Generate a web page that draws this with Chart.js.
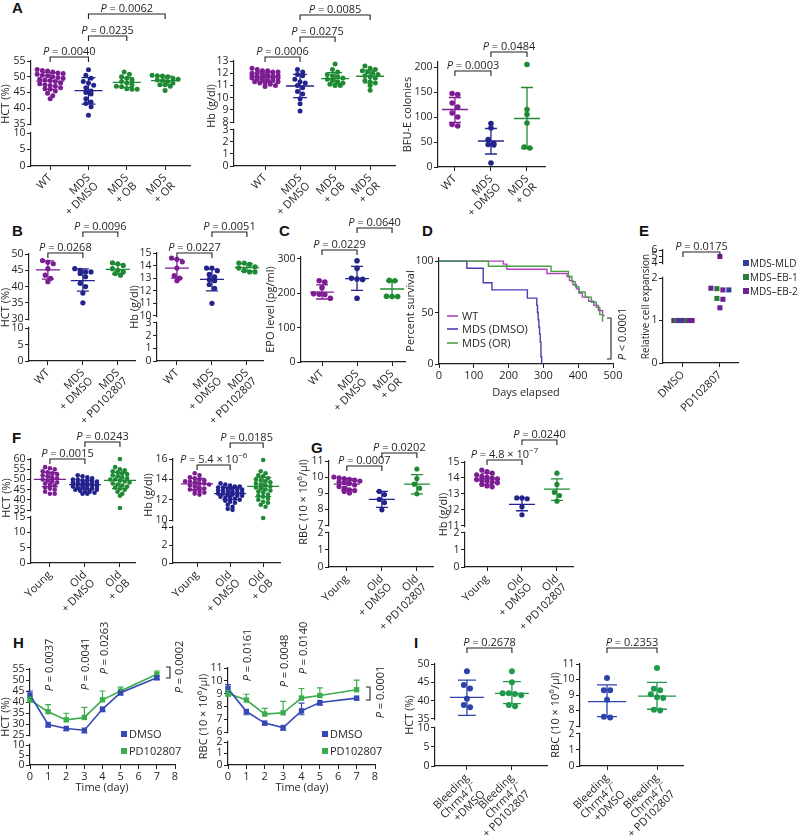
<!DOCTYPE html>
<html><head><meta charset="utf-8"><title>Figure</title>
<script src="https://cdn.jsdelivr.net/npm/chart.js@4.4.1/dist/chart.umd.min.js"></script>
<style>
html,body{margin:0;padding:0;background:#fff}
#fig{position:relative;width:800px;height:835px;overflow:hidden;background:#fff}
#fig canvas{position:absolute}
.L{position:absolute;font:bold 15px "Liberation Sans",Arial,sans-serif;line-height:15px;color:#111}
</style></head>
<body><div id="fig">
<div class="L" style="left:12px;top:0px">A</div>
<div class="L" style="left:12px;top:223px">B</div>
<div class="L" style="left:279px;top:223px">C</div>
<div class="L" style="left:422px;top:223px">D</div>
<div class="L" style="left:639px;top:223px">E</div>
<div class="L" style="left:12px;top:430px">F</div>
<div class="L" style="left:311px;top:440px">G</div>
<div class="L" style="left:13px;top:635px">H</div>
<div class="L" style="left:414px;top:635px">I</div>
</div>
<script>
// ======================= DATA =======================
const catsA = ['WT', ['MDS','+ DMSO'], ['MDS','+ OB'], ['MDS','+ OR']];
const catsA3 = ['WT', ['MDS','+ DMSO'], ['MDS','+ OR']];
const catsB = ['WT', ['MDS','+ DMSO'], ['MDS','+ PD102807']];
const catsC = ['WT', ['MDS','+ DMSO'], ['MDS','+ OR']];
const catsE = ['DMSO', 'PD102807'];
const catsF = ['Young', ['Old','+ DMSO'], ['Old','+ OB']];
const catsG = ['Young', ['Old','+ DMSO'], ['Old','+ PD102807']];
const catsI = [['Bleeding','Chrm4\u207B/\u207B','+DMSO'], ['Bleeding','Chrm4\u207B/\u207B','+ PD102807']];

// A – HCT
const a1_WT = [52.3,52,51.8,51.5,51.2,51,50.8,50.5,50.3,50,49.8,49.5,49.2,49,48.8,48.5,48,47.8,47.5,47.2,47,46.5,46.2,46,45.5,44.8,44,43];
const a1_DMSO = [52.2,50.5,49.5,48.5,48,47.3,46.5,45.5,45,44.5,43,42,41.5,40.5,37.8];
const a1_OB = [51.5,50.8,50,49.5,49,48.5,48,47.5,47,46.8,46.2,46,46];
const a1_OR = [50.5,50.3,50.2,50,49.5,49.2,49,48.8,48.5,48,47.5,47.5,47,45.6];
const a1_mean = [48.6,45.6,48.2,48.8];
const a1_sd = [[46.0,51.3],[41.3,49.7],[46.6,49.7],[47.4,50.2]];
const a1_p = ['0.0040','0.0235','0.0062'];
const a1_ticks = [0,5,10,35,40,45,50,55];
// A – Hb
const a2_WT = [12.4,12.3,12.2,12.2,12.1,12.1,12.0,12.0,11.9,11.9,11.8,11.8,11.8,11.7,11.7,11.7,11.6,11.6,11.6,11.5,11.5,11.4,11.4,11.3,11.3,11.2,11.2,11.1,11.0,10.9];
const a2_DMSO = [12.3,12.1,11.9,11.8,11.5,11.3,11.2,11.0,10.8,10.5,10.3,9.9,9.5,8.9];
const a2_OB = [12.75,12.3,12.1,11.9,11.8,11.7,11.6,11.5,11.4,11.3,11.2,11.1,11.0,11.0];
const a2_OR = [12.6,12.4,12.3,12.2,12.1,12.0,11.9,11.8,11.7,11.6,11.4,11.3,11.2,11.0,10.6];
const a2_mean = [11.7,10.95,11.55,11.75];
const a2_sd = [[11.3,12.1],[10.0,11.9],[11.1,12.05],[11.2,12.25]];
const a2_p = ['0.0006','0.0275','0.0085'];
const a2_ticks = [0,1,2,3,8,9,10,11,12,13];
// A – BFU-E
const a3_WT = [147,145,128,120,108,100,85,82];
const a3_DMSO = [87,78,55,47,45,44,8];
const a3_OR = [205,115,105,88,40,38];
const a3_mean = [115,52,97];
const a3_sd = [[89,139],[26,77],[37,159]];
const a3_p = ['0.0003','0.0484'];
const a3_ticks = [0,50,100,150,200];
// B
const b1_WT = [48.0,47.5,47.0,45.5,43.5,42.5,41.5];
const b1_DMSO = [45.5,45.0,44.5,44.5,44.0,43.0,41.0,40.0,38.0,35.0];
const b1_PD = [47.3,47.0,46.5,45.5,45.0,44.5,44.0,43.5];
const b1_mean = [45.1,41.8,45.3];
const b1_sd = [[42.3,47.9],[38.6,45.4],[43.8,46.8]];
const b1_p = ['0.0268','0.0096'];
const b1_ticks = [0,5,10,30,35,40,45,50];
const b2_WT = [14.6,14.5,14.3,13.8,13.2,13.0,12.8];
const b2_DMSO = [13.8,13.8,13.6,13.3,13.1,12.9,12.8,12.5,12.2,11.0];
const b2_PD = [14.2,14.2,14.1,13.9,13.8,13.6,13.5,13.5];
const b2_mean = [13.8,12.9,13.85];
const b2_sd = [[13.0,14.5],[12.0,13.7],[13.55,14.15]];
const b2_p = ['0.0227','0.0051'];
const b2_ticks = [0,1,2,3,10,11,12,13,14,15];
// C
const c_WT = [236,232,216,198,197,196,185];
const c_DMSO = [294,272,243,241,240,185];
const c_OR = [237,236,191,190,190];
const c_mean = [203,242,212];
const c_sd = [[183,224],[208,278],[190,236]];
const c_p = ['0.0229','0.0640'];
const c_ticks = [0,100,200,300];
// D – survival
const d_WT_days = [0,185,195,310,368,375,385,395,402,412,430,445,458,470,476];
const d_WT_surv = [100,97,92,88,85,81,77,73,69,65,61,57,52,47,47];
const d_DMSO_days = [0,80,127,152,254,281,283,285,287,289,291,293,295];
const d_DMSO_surv = [100,93,79,72,64,57,50,43,36,29,21,7,0];
const d_OR_days = [0,142,322,372,382,392,402,420,438,452,462,470];
const d_OR_surv = [100,95,90,85,80,75,70,65,60,55,48,41];
const d_legend = ['WT','MDS (DMSO)','MDS (OR)'];
const d_p = '< 0.0001';
const d_xticks = [0,100,200,300,400,500];
const d_yticks = [0,50,100];
// E
const e_types = ['EB-2','EB-1','EB-2','MLD','EB-2','EB-1','EB-2','EB-2'];
const e_DMSO = [1,1,1,1,1,1,1,1];
const e_PD = [5.0,1.75,1.72,1.72,1.76,1.52,1.5,1.3];
const e_p = ['0.0175'];
const e_ticks = [0,1,2,4,5,6];
const e_legend = ['MDS-MLD','MDS\u2013EB-1','MDS\u2013EB-2'];
const e_legendTypes = ['MLD','EB-1','EB-2'];
// F
const f1_Young = [56,55.5,55,54,53.5,53,52.5,52,51.5,51,50.5,50,49.5,49,48.5,48,47.5,47,46,45.5,45,44,43,43];
const f1_DMSO = [52,51.5,51,50.5,50,50,49.5,49.5,49,49,48.5,48.5,48,48,48,47.5,47.5,47.5,47,47,47,46.5,46.5,46,46,45.5,45.5,45,45,44.5,44,44,43.5,43,43];
const f1_OB = [60,56,55,54.5,54,53.5,53,52.5,52,51.5,51,50.5,50,50,49.5,49,48.5,48,47.5,47,46.5,46,45.5,45,44,43,42,36];
const f1_mean = [50.0,47.5,49.5];
const f1_sd = [[46.5,53.5],[45.3,49.7],[45.5,53.5]];
const f1_p = ['0.0015','0.0243'];
const f1_ticks = [0,5,10,15,35,40,45,50,55,60];
const f2_Young = [14.6,14.4,14.2,14.1,14.0,13.9,13.8,13.8,13.7,13.6,13.6,13.5,13.4,13.3,13.2,13.1,13.0,12.9,12.8,12.7,12.6,12.5];
const f2_DMSO = [13.6,13.5,13.4,13.3,13.3,13.2,13.2,13.1,13.1,13.0,13.0,12.9,12.9,12.8,12.8,12.7,12.7,12.6,12.6,12.5,12.5,12.4,12.4,12.3,12.2,12.2,12.1,12.0,11.9,11.8,11.7,11.5,11.3,11.1,11.0];
const f2_OB = [15.9,14.8,14.6,14.4,14.3,14.1,14.0,13.9,13.8,13.7,13.6,13.5,13.4,13.3,13.2,13.1,13.0,12.9,12.8,12.7,12.5,12.4,12.3,12.1,12.0,11.8,11.7,11.5,11.3,10.2];
const f2_mean = [13.55,12.6,13.3];
const f2_sd = [[13.0,14.1],[12.0,13.2],[12.3,14.2]];
const f2_p = ['5.4 \u00D7 10^{\u22126}','0.0185'];
const f2_ticks = [0,2,4,10,12,14,16];
// G
const g1_Young = [10.0,9.95,9.9,9.85,9.8,9.75,9.7,9.65,9.6,9.5,9.4,9.3,9.2,9.15,9.1,9.0];
const g1_DMSO = [9.1,8.9,8.6,8.4,7.95];
const g1_PD = [10.5,9.9,9.55,9.3,8.95];
const g1_mean = [9.55,8.6,9.55];
const g1_sd = [[9.2,9.9],[8.1,9.1],[8.95,10.15]];
const g1_p = ['0.0007','0.0202'];
const g1_ticks = [0,1,2,7,8,9,10,11];
const g2_Young = [14.5,14.4,14.3,14.2,14.1,14.05,14.0,13.95,13.9,13.85,13.8,13.75,13.7,13.6,13.5,13.45];
const g2_DMSO = [12.75,12.75,12.7,12.2,11.7];
const g2_PD = [14.3,13.6,13.1,12.9,12.55];
const g2_mean = [13.95,12.35,13.3];
const g2_sd = [[13.6,14.3],[11.95,12.75],[12.6,13.95]];
const g2_p = ['4.8 \u00D7 10^{\u22127}','0.0240'];
const g2_ticks = [0,1,2,11,12,13,14,15];
// H
const h_days = [0,1,2,3,4,5,7];
const h_xticks = [0,1,2,3,4,5,6,7,8];
const h_legend = ['DMSO','PD102807'];
const h1_DMSO = [43.2,29.8,28.0,27.2,36.8,44.2,51.0];
const h1_PD = [41.0,35.6,31.9,33.0,41.0,45.0,52.6];
const h1_DMSOup = [1.8,0,0,0,0,0.6,0];
const h1_DMSOdn = [1.2,1.2,1.0,1.2,1.2,1.0,0.8];
const h1_PDup = [1.2,3.2,3.0,4.6,4.0,1.8,1.5];
const h1_PDdn = [1.0,0,0,0,0,0,0];
const h1_p = ['0.0037','0.0041','0.0263','0.0002'];
const h1_ticks = [0,5,10,25,30,35,40,45,50,55];
const h2_DMSO = [9.4,7.6,6.7,6.35,7.65,8.3,8.65];
const h2_PD = [9.0,8.5,7.4,7.5,8.65,8.85,9.3];
const h2_DMSOup = [0.3,0,0,0,0.6,0,0];
const h2_DMSOdn = [0.2,0.25,0.15,0.2,0.3,0.2,0.15];
const h2_PDup = [0.25,0.45,0.45,0.9,0.75,0.6,0.75];
const h2_PDdn = [0.2,0,0,0,0,0,0];
const h2_p = ['0.0161','0.0048','0.0140','0.0001'];
const h2_ticks = [0,1,2,6,7,8,9,10,11];
// I
const i1_DMSO = [48.0,44.3,43.3,40.5,38.8,38.2];
const i1_PD = [48.0,45.0,42.0,42.0,41.8,41.5,38.8,38.5];
const i1_mean = [40.9,42.0];
const i1_sd = [[36.0,45.6],[39.2,45.2]];
const i1_p = ['0.2678'];
const i1_ticks = [0,5,10,35,40,45,50];
const i2_DMSO = [10.1,9.3,9.3,8.7,7.6,7.55];
const i2_PD = [10.75,9.4,9.3,9.05,8.85,8.8,8.05,8.0];
const i2_mean = [8.57,8.93];
const i2_sd = [[7.6,9.65],[8.08,9.82]];
const i2_p = ['0.2353'];
const i2_ticks = [0,1,2,7,8,9,10,11];

// ======================= STYLE / LAYOUT =======================
const INK = '#231f20';
const FONT = '"Open Sans","Noto Sans","DejaVu Sans",sans-serif';
const TICK = 10.5;
const COL = {pur:'#7d1d93', navy:'#23238e', grn:'#1e8a33', iB:'#2d43ab', iG:'#1f9a4a',
  hB:'#3649b3', hG:'#3aad4c', dWT:'#b23fc4', dDMSO:'#4b3db3', dOR:'#45a142',
  E:{'MLD':'#2f3f9f','EB-1':'#2b7a3a','EB-2':'#6c2196'}};

const LAY = {
  A1:{rect:[31,61,190,166], x:[-0.5,3.65], y:{low:[0,10],high:[35,55],split:.314,gap:.086}, rad:2.5, d:5.2, maxRow:6, mw:14, cw:7, tOff:26, tY:104, br:[[0,1,57],[1,2,36],[1,3,14]]},
  A2:{rect:[234,61,395,166], x:[-0.886,3.71], y:{low:[0,3],high:[8,13],split:.343,gap:.076}, rad:2.5, d:5.2, maxRow:6, mw:14, cw:7, tOff:23, tY:106, br:[[0,1,57],[1,2,37],[1,3,15]]},
  A3:{rect:[438,62,545,167], x:[-0.47,2.5], y:{min:0,max:210}, rad:2.8, d:5.6, mw:13, cw:6, tOff:31, br:[[0,1,71],[1,2,52]]},
  B1:{rect:[29,254,135,361], x:[-0.54,2.49], y:{low:[0,10],high:[30,50],split:.308,gap:.084}, rad:2.6, d:5.4, mw:12, cw:6, tOff:24, br:[[0,1,253],[1,2,232]]},
  B2:{rect:[157,253,263,361], x:[-0.57,2.46], y:{low:[0,3],high:[10,15],split:.352,gap:.065}, rad:2.6, d:5.4, mw:12, cw:6, tOff:23, br:[[0,1,253],[1,2,232]]},
  C:{rect:[301,257,405,362], x:[-0.6,2.37], y:{min:0,max:305}, rad:2.8, d:5.6, mw:12, cw:6, tOff:31, br:[[0,1,250],[1,2,228]]},
  D:{rect:[439,258,613,364], m:{l:45,t:20,r:40,b:45}, tOff:29, xtX:526, xtY:396},
  E:{rect:[663,250,738,363], x:[-0.54,1.49], y:{low:[0,2],high:[4,6],split:.752,gap:.133}, rad:3.6, ps:'rect', d:[2.6,6], tOff:18, tSize:10, br:[[0,1,252]], m:{r:64}},
  F1:{rect:[31,459,135,563], x:[-0.54,2.43], y:{low:[0,15],high:[35,60],split:.442,gap:.067}, rad:2.3, d:4.8, maxRow:6, mw:16, cw:8, tOff:25, tY:498, br:[[0,1,459],[1,2,442]]},
  F2:{rect:[173,459,280,563], x:[-0.73,2.51], y:{low:[0,4],high:[10,16],split:.346,gap:.067}, rad:2.3, d:4.8, maxRow:6, mw:16, cw:8, tOff:25, tY:495, br:[[0,1,465],[1,2,443]]},
  G1:{rect:[329,461,433,567], x:[-0.51,2.46], y:{low:[0,2],high:[7,11],split:.321,gap:.075}, rad:2.6, d:5.2, maxRow:6, mw:13, cw:6, tOff:26, tY:502, br:[[0,1,466],[1,2,453]]},
  G2:{rect:[465,462,573,567], x:[-0.63,2.46], y:{low:[0,2],high:[11,15],split:.324,gap:.067}, rad:2.6, d:5.2, maxRow:6, mw:13, cw:6, tOff:22, br:[[0,1,460],[1,2,440]]},
  H1:{rect:[30,669,175,765], y:{low:[0,10],high:[25,55],split:.208,gap:.104}, m:{l:45,t:55,r:25,b:35}, tOff:25, xtX:102, xtY:791, pt:[[1,665],[3,664],[4,648]], bk:[170,667,678], bkT:[179,667], leg:[121,129]},
  H2:{rect:[228,668,375,765], y:{low:[0,2],high:[6,11],split:.237,gap:.103}, m:{l:45,t:55,r:25,b:35}, tOff:25, xtX:302, xtY:791, pt:[[1,655],[3,661],[4,648]], bk:[370,687,700], bkT:[380,692], leg:[322,330]},
  I1:{rect:[435,664,547,766], x:[-0.71,1.78], y:{low:[0,10],high:[35,50],split:.373,gap:.088}, rad:3, d:6.2, mw:17, cw:9, tOff:26, br:[[0,1,648]], m:{b:75}},
  I2:{rect:[580,664,683,766], x:[-0.54,1.52], y:{low:[0,2],high:[7,11],split:.314,gap:.078}, rad:3, d:6.2, mw:19, cw:10, tOff:25, br:[[0,1,648]], m:{b:75}}
};

// ======================= HELPERS =======================
Chart.defaults.font.family = FONT;
Chart.defaults.font.size = 11;
Chart.defaults.color = INK;
const BRK = {}, SPEC = {};
const fig = document.getElementById('fig');

function brkDec(Y, v) {
  if (v <= (Y.low[1] + Y.high[0]) / 2) return (v - Y.low[0]) / (Y.low[1] - Y.low[0]) * Y.split;
  return Y.split + Y.gap + (v - Y.high[0]) / (Y.high[1] - Y.high[0]) * (1 - Y.split - Y.gap);
}
class BrokenScale extends Chart.LinearScale {
  getPixelForValue(v) {
    if (v === null || v === undefined || isNaN(v)) return NaN;
    return this.getPixelForDecimal(brkDec(BRK[this.chart.canvas.id], v));
  }
}
BrokenScale.id = 'broken';
BrokenScale.defaults = {};
Chart.register(BrokenScale);

function rich(ctx, str, x, y, size, align) {
  const parts = str.split(/(\^\{[^}]*\}|_\{[^}]*\})/).filter(s => s);
  const segs = parts.map(p => p.startsWith('^{') ? {t:p.slice(2,-1), f:Math.round(size*0.72)+'px '+FONT, dy:-size*0.38}
    : p.startsWith('_{') ? {t:p.slice(2,-1), f:'italic '+size+'px '+FONT, dy:0}
    : {t:p, f:size+'px '+FONT, dy:0});
  let W = 0;
  segs.forEach(s => { ctx.font = s.f; s.w = ctx.measureText(s.t).width; W += s.w; });
  let cx = align === 'center' ? x - W/2 : align === 'right' ? x - W : x;
  ctx.textAlign = 'left'; ctx.textBaseline = 'alphabetic';
  segs.forEach(s => { ctx.font = s.f; ctx.fillText(s.t, cx, y + s.dy); cx += s.w; });
}

function place(id, rect, m) {
  const c = document.createElement('canvas'); c.id = id;
  const [l,t,r,b] = rect;
  const w = Math.round(r - l + m.l + m.r), h = Math.round(b - t + m.t + m.b);
  c.width = w; c.height = h;
  Object.assign(c.style, {left:(l-m.l)+'px', top:(t-m.t)+'px', width:w+'px', height:h+'px'});
  fig.appendChild(c);
  return {c, ox:l-m.l, oy:t-m.t};
}
function axisBase() {
  return {grid:{display:true, drawOnChartArea:false, drawTicks:true, tickLength:4, color:INK, lineWidth:1},
          border:{display:true, color:INK, width:1.2}};
}
function yCfg(Y, ticks, m) {
  return Object.assign(axisBase(), {
    type: Y.low ? 'broken' : 'linear', position:'left',
    min: Y.low ? Y.low[0] : Y.min, max: Y.low ? Y.high[1] : Y.max, bounds:'data',
    afterBuildTicks: s => { s.ticks = ticks.map(v => ({value:v})); },
    afterFit: s => { s.width = m.l; s.paddingTop = 0; s.paddingBottom = 0; },
    ticks:{font:{family:FONT,size:TICK}, color:INK, padding:1.5, autoSkip:false, callback: v => String(v)}
  });
}
function xCfg(min, max, ticks, labels, rot, m) {
  return Object.assign(axisBase(), {
    type:'linear', position:'bottom', min, max, bounds:'data',
    afterBuildTicks: s => { s.ticks = ticks.map(v => ({value:v})); },
    afterFit: s => { s.height = m.b; s.paddingLeft = 0; s.paddingRight = 0; },
    ticks:{autoSkip:false, minRotation:rot, maxRotation:rot, font:{family:FONT,size:11,lineHeight:1.05}, color:INK, padding:2,
      callback: (v, i) => labels ? labels[i] : String(v)}
  });
}
function opts(m, x, y) {
  return {responsive:false, animation:false, events:[], devicePixelRatio:1,
    layout:{autoPadding:false, padding:{left:0, right:m.r, top:m.t, bottom:0}},
    plugins:{legend:{display:false}, tooltip:{enabled:false}}, scales:{x, y}};
}
function swarm(vals, yp, d, maxRow) {
  const idx = vals.map((_, i) => i).sort((a, b) => vals[b] - vals[a]);
  const off = vals.map(() => 0);
  let row = [], y0 = null;
  const flush = () => { row.forEach((k, j) => { off[k] = (j - (row.length - 1) / 2) * d; }); row = []; };
  idx.forEach(k => {
    const y = yp(vals[k]);
    if (y0 === null || Math.abs(y - y0) > d * 0.8 || row.length >= maxRow) { flush(); y0 = y; }
    row.push(k);
  });
  flush();
  return off;
}
const mk = (vals, cols, mean, sd) => vals.map((v, i) => ({vals:v, color:cols[i], mean: mean ? mean[i] : null, sd: sd ? sd[i] : null}));

function dotPanel(id, L, cats, groups, ticks, pvals, title) {
  const m = Object.assign({l:48, t:72, r:22, b:95}, L.m || {});
  const {c, ox, oy} = place(id, L.rect, m);
  const [l,t,r,b] = L.rect;
  const Y = L.y; if (Y.low) BRK[id] = Y;
  const yp = v => b - (Y.low ? brkDec(Y, v) : (v - Y.min) / (Y.max - Y.min)) * (b - t);
  const pxX = (r - l) / (L.x[1] - L.x[0]);
  const datasets = groups.map((g, gi) => {
    const d = Array.isArray(L.d) ? L.d[gi] : L.d;
    const off = swarm(g.vals, yp, d, L.maxRow || 99);
    return {data: g.vals.map((v, k) => ({x: gi + off[k] / pxX, y: v})), backgroundColor: g.pc || g.color,
      pointStyle: L.ps || 'circle', pointRadius: L.rad, pointHoverRadius: L.rad, borderWidth: 0, clip: false};
  });
  SPEC[id] = {ox, oy, Y, mw:L.mw, cw:L.cw, title, tOff:L.tOff, tY:L.tY, tSize:L.tSize,
    bars: groups.map((g, i) => g.mean == null ? null : {i, mean:g.mean, sd:g.sd, color:g.color}).filter(Boolean),
    brackets: L.br.map((q, k) => ({i:q[0], j:q[1], y:q[2], p:pvals[k]})), extra: L.extra};
  new Chart(c, {type:'scatter', data:{datasets},
    options: opts(m, xCfg(L.x[0], L.x[1], cats.map((_, i) => i), cats, 45, m), yCfg(Y, ticks, m))});
}

Chart.register({
  id:'deco',
  afterDatasetsDraw(chart) {
    const S = SPEC[chart.canvas.id]; if (!S) return;
    const ctx = chart.ctx, xs = chart.scales.x, ys = chart.scales.y;
    ctx.save(); ctx.lineWidth = 1.3;
    (S.bars || []).forEach(g => {
      const x = xs.getPixelForValue(g.i), ym = ys.getPixelForValue(g.mean);
      const y1 = ys.getPixelForValue(g.sd[0]), y2 = ys.getPixelForValue(g.sd[1]);
      ctx.strokeStyle = g.color; ctx.beginPath();
      ctx.moveTo(x - S.mw, ym); ctx.lineTo(x + S.mw, ym);
      ctx.moveTo(x, y1); ctx.lineTo(x, y2);
      ctx.moveTo(x - S.cw, y1); ctx.lineTo(x + S.cw, y1);
      ctx.moveTo(x - S.cw, y2); ctx.lineTo(x + S.cw, y2);
      ctx.stroke();
    });
    (S.err || []).forEach(e => {
      ctx.strokeStyle = e.color; ctx.lineWidth = 1.2; ctx.beginPath();
      e.vals.forEach((v, k) => {
        const x = xs.getPixelForValue(e.xs[k]), y0 = ys.getPixelForValue(v);
        [[e.up[k], 1], [e.dn[k], -1]].forEach(([d, sgn]) => {
          if (!d) return;
          const y = ys.getPixelForValue(v + sgn * d);
          ctx.moveTo(x, y0); ctx.lineTo(x, y); ctx.moveTo(x - 3, y); ctx.lineTo(x + 3, y);
        });
      });
      ctx.stroke();
    });
    ctx.restore();
  },
  afterDraw(chart) {
    const S = SPEC[chart.canvas.id]; if (!S) return;
    const ctx = chart.ctx, xs = chart.scales.x, ys = chart.scales.y, A = chart.chartArea;
    ctx.save();
    if (S.Y && S.Y.low) {
      const p1 = ys.getPixelForValue(S.Y.high[0]), p2 = ys.getPixelForValue(S.Y.low[1]);
      ctx.fillStyle = '#fff';
      ctx.fillRect(A.left - 2, p1 + 1.3, 4, p2 - p1 - 2.6);
    }
    ctx.strokeStyle = INK; ctx.fillStyle = INK; ctx.lineWidth = 1.1;
    (S.brackets || []).forEach(q => {
      const x1 = xs.getPixelForValue(q.i), x2 = xs.getPixelForValue(q.j), y = q.y - S.oy;
      ctx.beginPath(); ctx.moveTo(x1, y + 5); ctx.lineTo(x1, y); ctx.lineTo(x2, y); ctx.lineTo(x2, y + 5); ctx.stroke();
      rich(ctx, '_{P} = ' + q.p, (x1 + x2) / 2, y - 2.5, 11, 'center');
    });
    if (S.title) {
      ctx.save();
      const yc = S.tY ? S.tY - S.oy : (A.top + A.bottom) / 2;
      ctx.translate(A.left - S.tOff, yc); ctx.rotate(-Math.PI / 2);
      rich(ctx, S.title, 0, 3.5, S.tSize || 11, 'center');
      ctx.restore();
    }
    if (S.xtitle) rich(ctx, S.xtitle, S.xtX - S.ox, S.xtY - S.oy, 11, 'center');
    if (S.extra) S.extra(ctx, chart, S);
    ctx.restore();
  }
});

// ======================= BUILD =======================
dotPanel('A1', LAY.A1, catsA, mk([a1_WT,a1_DMSO,a1_OB,a1_OR],[COL.pur,COL.navy,COL.grn,COL.grn],a1_mean,a1_sd), a1_ticks, a1_p, 'HCT (%)');
dotPanel('A2', LAY.A2, catsA, mk([a2_WT,a2_DMSO,a2_OB,a2_OR],[COL.pur,COL.navy,COL.grn,COL.grn],a2_mean,a2_sd), a2_ticks, a2_p, 'Hb (g/dl)');
dotPanel('A3', LAY.A3, catsA3, mk([a3_WT,a3_DMSO,a3_OR],[COL.pur,COL.navy,COL.grn],a3_mean,a3_sd), a3_ticks, a3_p, 'BFU-E colonies');
dotPanel('B1', LAY.B1, catsB, mk([b1_WT,b1_DMSO,b1_PD],[COL.pur,COL.navy,COL.grn],b1_mean,b1_sd), b1_ticks, b1_p, 'HCT (%)');
dotPanel('B2', LAY.B2, catsB, mk([b2_WT,b2_DMSO,b2_PD],[COL.pur,COL.navy,COL.grn],b2_mean,b2_sd), b2_ticks, b2_p, 'Hb (g/dl)');
dotPanel('C', LAY.C, catsC, mk([c_WT,c_DMSO,c_OR],[COL.pur,COL.navy,COL.grn],c_mean,c_sd), c_ticks, c_p, 'EPO level (pg/ml)');
LAY.E.extra = (ctx, ch, S) => {
  const ys = [263, 277, 291];
  e_legend.forEach((t, k) => {
    ctx.fillStyle = COL.E[e_legendTypes[k]]; ctx.fillRect(743 - S.ox, ys[k] - 3 - S.oy, 6, 6);
    ctx.fillStyle = INK; rich(ctx, t, 750 - S.ox, ys[k] + 4 - S.oy, 10, 'left');
  });
};
dotPanel('E', LAY.E, catsE, [
  {vals:e_DMSO, color:COL.E['EB-2'], pc:e_types.map(t => COL.E[t])},
  {vals:e_PD, color:COL.E['EB-2'], pc:e_types.map(t => COL.E[t])}], e_ticks, e_p, 'Relative cell expansion');
dotPanel('F1', LAY.F1, catsF, mk([f1_Young,f1_DMSO,f1_OB],[COL.pur,COL.navy,COL.grn],f1_mean,f1_sd), f1_ticks, f1_p, 'HCT (%)');
dotPanel('F2', LAY.F2, catsF, mk([f2_Young,f2_DMSO,f2_OB],[COL.pur,COL.navy,COL.grn],f2_mean,f2_sd), f2_ticks, f2_p, 'Hb (g/dl)');
dotPanel('G1', LAY.G1, catsG, mk([g1_Young,g1_DMSO,g1_PD],[COL.pur,COL.navy,COL.grn],g1_mean,g1_sd), g1_ticks, g1_p, 'RBC (10 \u00D7 10^{6}/\u00B5l)');
dotPanel('G2', LAY.G2, catsG, mk([g2_Young,g2_DMSO,g2_PD],[COL.pur,COL.navy,COL.grn],g2_mean,g2_sd), g2_ticks, g2_p, 'Hb (g/dl)');
dotPanel('I1', LAY.I1, catsI, mk([i1_DMSO,i1_PD],[COL.iB,COL.iG],i1_mean,i1_sd), i1_ticks, i1_p, 'HCT (%)');
dotPanel('I2', LAY.I2, catsI, mk([i2_DMSO,i2_PD],[COL.iB,COL.iG],i2_mean,i2_sd), i2_ticks, i2_p, 'RBC (10 \u00D7 10^{6}/\u00B5l)');

// D – survival
(function () {
  const L = LAY.D, m = L.m;
  const {c, ox, oy} = place('D', L.rect, m);
  const series = [[d_OR_days, d_OR_surv, COL.dOR], [d_DMSO_days, d_DMSO_surv, COL.dDMSO], [d_WT_days, d_WT_surv, COL.dWT]];
  const datasets = series.map(s => ({data: s[0].map((x, k) => ({x, y: s[1][k]})), stepped: true,
    borderColor: s[2], borderWidth: 1.4, pointRadius: 0, fill: false, clip: false}));
  SPEC.D = {ox, oy, title:'Percent survival', tOff:L.tOff, xtitle:'Days elapsed', xtX:L.xtX, xtY:L.xtY,
    extra: (ctx, ch, S) => {
      const cols = [COL.dWT, COL.dDMSO, COL.dOR], ys = [316, 329, 343];
      d_legend.forEach((t, k) => {
        ctx.strokeStyle = cols[k]; ctx.lineWidth = 1.6; ctx.beginPath();
        ctx.moveTo(447 - ox, ys[k] - oy); ctx.lineTo(458 - ox, ys[k] - oy); ctx.stroke();
        ctx.fillStyle = INK; rich(ctx, t, 462 - ox, ys[k] + 4 - oy, 11, 'left');
      });
      ctx.strokeStyle = INK; ctx.lineWidth = 1.1; ctx.beginPath();
      ctx.moveTo(607 - ox, 318 - oy); ctx.lineTo(611 - ox, 318 - oy); ctx.lineTo(611 - ox, 359 - oy); ctx.lineTo(607 - ox, 359 - oy); ctx.stroke();
      ctx.save(); ctx.translate(622 - ox, 334 - oy); ctx.rotate(-Math.PI / 2); ctx.fillStyle = INK;
      rich(ctx, '_{P} ' + d_p, 0, 4, 11, 'center'); ctx.restore();
    }};
  new Chart(c, {type:'line', data:{datasets},
    options: opts(m, xCfg(0, 500, d_xticks, null, 0, m), yCfg({min:0, max:103}, d_yticks, m))});
})();

// H – time courses
function hPanel(id, L, dm, pd, dmUp, dmDn, pdUp, pdDn, ticks, pv, title) {
  const m = L.m;
  const {c, ox, oy} = place(id, L.rect, m);
  BRK[id] = L.y;
  const datasets = [[dm, COL.hB], [pd, COL.hG]].map(s => ({data: h_days.map((x, k) => ({x, y: s[0][k]})),
    borderColor: s[1], backgroundColor: s[1], borderWidth: 1.6, pointStyle: 'rect', pointRadius: 3.8,
    pointBorderWidth: 0, fill: false, clip: false, tension: 0}));
  SPEC[id] = {ox, oy, Y:L.y, title, tOff:L.tOff, xtitle:'Time (day)', xtX:L.xtX, xtY:L.xtY,
    err: [{xs:h_days, vals:dm, up:dmUp, dn:dmDn, color:COL.hB}, {xs:h_days, vals:pd, up:pdUp, dn:pdDn, color:COL.hG}],
    extra: (ctx, ch, S) => {
      const xs = ch.scales.x;
      ctx.fillStyle = INK;
      L.pt.forEach((q, k) => {
        ctx.save(); ctx.translate(xs.getPixelForValue(q[0]) + 1, q[1] - oy); ctx.rotate(-Math.PI / 2);
        rich(ctx, '_{P} = ' + pv[k], 0, 4, 11, 'center'); ctx.restore();
      });
      ctx.strokeStyle = INK; ctx.lineWidth = 1.1; ctx.beginPath();
      ctx.moveTo(L.bk[0] - 4 - ox, L.bk[1] - oy); ctx.lineTo(L.bk[0] - ox, L.bk[1] - oy);
      ctx.lineTo(L.bk[0] - ox, L.bk[2] - oy); ctx.lineTo(L.bk[0] - 4 - ox, L.bk[2] - oy); ctx.stroke();
      ctx.save(); ctx.translate(L.bkT[0] - ox, L.bkT[1] - oy); ctx.rotate(-Math.PI / 2);
      rich(ctx, '_{P} = ' + pv[3], 0, 4, 11, 'center'); ctx.restore();
      const rows = [734, 751], cols = [COL.hB, COL.hG];
      h_legend.forEach((t, k) => {
        ctx.fillStyle = cols[k]; ctx.fillRect(L.leg[0] - ox, rows[k] - 3 - oy, 6, 6);
        ctx.fillStyle = INK; rich(ctx, t, L.leg[1] - ox, rows[k] + 4 - oy, 11, 'left');
      });
    }};
  new Chart(c, {type:'line', data:{datasets},
    options: opts(m, xCfg(0, 8, h_xticks, null, 0, m), yCfg(L.y, ticks, m))});
}
hPanel('H1', LAY.H1, h1_DMSO, h1_PD, h1_DMSOup, h1_DMSOdn, h1_PDup, h1_PDdn, h1_ticks, h1_p, 'HCT (%)');
hPanel('H2', LAY.H2, h2_DMSO, h2_PD, h2_DMSOup, h2_DMSOdn, h2_PDup, h2_PDdn, h2_ticks, h2_p, 'RBC (10 \u00D7 10^{6}/\u00B5l)');
</script></body></html>
